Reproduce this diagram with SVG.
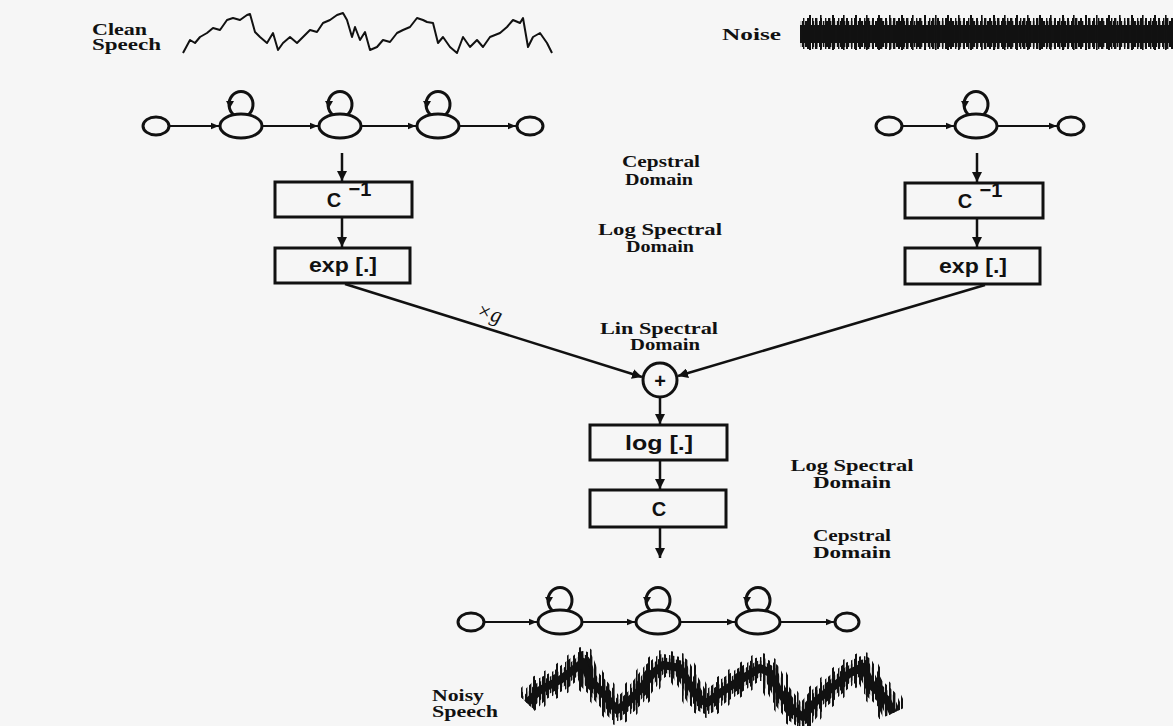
<svg xmlns="http://www.w3.org/2000/svg" width="1173" height="726" viewBox="0 0 1173 726">
<style>
.lbl{font-family:"Liberation Serif","Times New Roman",serif;font-size:16px;fill:#111;font-weight:bold}
.box{fill:none;stroke:#111;stroke-width:3}
.btxt{font-family:"Liberation Sans",Arial,sans-serif;font-weight:bold;font-size:20px;fill:#111;text-anchor:middle}
.st{fill:none;stroke:#111;stroke-width:3}
.ln{fill:none;stroke:#111;stroke-width:2.5}
.tr{fill:none;stroke:#111;stroke-width:2}
</style>
<defs>
<marker id="ah" viewBox="0 0 10 10" refX="10" refY="5" markerWidth="4" markerHeight="4" orient="auto" markerUnits="strokeWidth"><path d="M0,0 L10,5 L0,10 z" fill="#111"/></marker>
<marker id="sh" viewBox="0 0 10 10" refX="10" refY="5" markerWidth="5" markerHeight="4" orient="auto" markerUnits="strokeWidth"><path d="M0,1 L10,5 L0,9 z" fill="#111"/></marker>
<pattern id="pA" patternUnits="userSpaceOnUse" width="7" height="60">
<rect x="0" y="0" width="2.2" height="60" fill="#111"/>
<rect x="3.8" y="0" width="1.6" height="60" fill="#111"/>
</pattern>
<pattern id="pB" patternUnits="userSpaceOnUse" width="13" height="60">
<rect x="1" y="0" width="2" height="60" fill="#111"/>
<rect x="6" y="0" width="1.4" height="60" fill="#111"/>
<rect x="9" y="0" width="2.4" height="60" fill="#111"/>
</pattern>
<pattern id="pC" patternUnits="userSpaceOnUse" width="23" height="60">
<rect x="4" y="0" width="2" height="60" fill="#111"/>
<rect x="15" y="0" width="1.6" height="60" fill="#111"/>
</pattern>
<path id="nz" d="M527,703 L540,690 560,680 577,667 583,662 590,680 600,690 617,710 627,703 640,690 653,673 663,665 680,668 687,680 697,697 707,703 720,693 740,680 760,668 770,673 780,693 793,710 803,717 817,700 833,687 850,673 863,667 873,687 887,700 893,713"/>
</defs>
<rect width="1173" height="726" fill="#f6f6f6"/>

<g id="clean-speech">
<text class="lbl" x="92" y="35" textLength="55" lengthAdjust="spacingAndGlyphs">Clean</text>
<text class="lbl" x="92" y="50" textLength="69" lengthAdjust="spacingAndGlyphs">Speech</text>
<polyline fill="none" stroke="#111" stroke-width="2" stroke-linejoin="round" points="183,53 190,40 195,43 200,37 207,33 213,28 220,30 227,20 233,18 240,20 247,15 250,14 255,32 260,37 267,43 273,33 278,50 283,43 290,37 297,43 303,37 310,30 317,32 323,23 330,20 337,15 343,13 347,20 352,37 355,27 360,40 365,32 370,50 377,47 383,40 390,42 397,33 403,30 410,27 417,18 423,20 427,22 433,23 438,43 443,37 450,47 457,53 463,37 470,47 477,40 483,47 490,37 500,33 507,27 513,20 520,23 523,18 528,47 533,37 540,33 547,43 552,53"/>
</g>

<g id="noise">
<text class="lbl" x="722" y="40" textLength="59" lengthAdjust="spacingAndGlyphs">Noise</text>
<rect x="800" y="25" width="373" height="18" fill="#111"/>
<rect x="800" y="21" width="373" height="26" fill="url(#pA)"/>
<rect x="803" y="18" width="370" height="31" fill="url(#pB)"/>
<rect x="800" y="15" width="373" height="35" fill="url(#pC)"/>
</g>

<g id="hmm-clean">
<ellipse class="st" cx="156" cy="126" rx="13" ry="9"/>
<ellipse class="st" cx="241" cy="126" rx="21" ry="12"/>
<ellipse class="st" cx="340" cy="126" rx="21" ry="12"/>
<ellipse class="st" cx="438" cy="126" rx="21" ry="12"/>
<ellipse class="st" cx="530" cy="126" rx="13" ry="9"/>
</g>

<g id="hmm-noise">
<ellipse class="st" cx="889" cy="126" rx="13" ry="9"/>
<ellipse class="st" cx="976" cy="126" rx="21" ry="12"/>
<ellipse class="st" cx="1071" cy="126" rx="13" ry="9"/>
</g>

<g id="box-cinv-left">
<rect class="box" x="275" y="182" width="137" height="35"/>
<text class="btxt" x="334" y="207">C</text>
<text class="btxt" x="360" y="196" font-size="13">−1</text>
</g>
<g id="box-exp-left">
<rect class="box" x="275" y="248" width="135" height="35"/>
<text class="btxt" x="343" y="272" textLength="68" lengthAdjust="spacingAndGlyphs">exp [.]</text>
</g>
<g id="box-cinv-right">
<rect class="box" x="905" y="183" width="138" height="35"/>
<text class="btxt" x="965" y="208">C</text>
<text class="btxt" x="991" y="197" font-size="13">−1</text>
</g>
<g id="box-exp-right">
<rect class="box" x="905" y="248" width="135" height="36"/>
<text class="btxt" x="973" y="273" textLength="68" lengthAdjust="spacingAndGlyphs">exp [.]</text>
</g>

<g id="labels">
<text class="lbl" x="661" y="167" text-anchor="middle" textLength="78" lengthAdjust="spacingAndGlyphs">Cepstral</text>
<text class="lbl" x="659" y="185" text-anchor="middle" textLength="68" lengthAdjust="spacingAndGlyphs">Domain</text>
<text class="lbl" x="660" y="235" text-anchor="middle" textLength="124" lengthAdjust="spacingAndGlyphs">Log Spectral</text>
<text class="lbl" x="660" y="252" text-anchor="middle" textLength="68" lengthAdjust="spacingAndGlyphs">Domain</text>
<text class="lbl" x="659" y="334" text-anchor="middle" textLength="118" lengthAdjust="spacingAndGlyphs">Lin Spectral</text>
<text class="lbl" x="665" y="350" text-anchor="middle" textLength="70" lengthAdjust="spacingAndGlyphs">Domain</text>
<text class="lbl" x="852" y="471" text-anchor="middle" textLength="123" lengthAdjust="spacingAndGlyphs">Log Spectral</text>
<text class="lbl" x="852" y="488" text-anchor="middle" textLength="78" lengthAdjust="spacingAndGlyphs">Domain</text>
<text class="lbl" x="852" y="541" text-anchor="middle" textLength="78" lengthAdjust="spacingAndGlyphs">Cepstral</text>
<text class="lbl" x="852" y="558" text-anchor="middle" textLength="78" lengthAdjust="spacingAndGlyphs">Domain</text>
</g>

<g id="sum">
<circle class="st" cx="660" cy="380" r="17"/>
<text class="btxt" x="660" y="388" font-size="24" font-weight="normal">+</text>
</g>

<g id="box-log">
<rect class="box" x="590" y="425" width="137" height="35"/>
<text class="btxt" x="659" y="450" textLength="68" lengthAdjust="spacingAndGlyphs">log [.]</text>
</g>
<g id="box-c">
<rect class="box" x="590" y="490" width="136" height="37"/>
<text class="btxt" x="659" y="516">C</text>
</g>

<g id="hmm-noisy">
<ellipse class="st" cx="471" cy="622" rx="13" ry="9"/>
<ellipse class="st" cx="560" cy="622" rx="22" ry="12"/>
<ellipse class="st" cx="658" cy="622" rx="22" ry="12"/>
<ellipse class="st" cx="758" cy="622" rx="22" ry="12"/>
<ellipse class="st" cx="847" cy="622" rx="12" ry="9"/>
</g>

<g id="noisy-speech">
<text class="lbl" x="432" y="701" textLength="52" lengthAdjust="spacingAndGlyphs">Noisy</text>
<text class="lbl" x="432" y="717" textLength="66" lengthAdjust="spacingAndGlyphs">Speech</text>
<use href="#nz" fill="none" stroke="url(#pC)" stroke-width="30" stroke-linejoin="round"/>
<use href="#nz" fill="none" stroke="url(#pB)" stroke-width="22" stroke-linejoin="round"/>
<use href="#nz" fill="none" stroke="url(#pA)" stroke-width="15" stroke-linejoin="round"/>
<use href="#nz" fill="none" stroke="#111" stroke-width="8" stroke-linejoin="round"/>
</g>

<g id="connectors">
<line class="tr" x1="169" y1="126" x2="219" y2="126" marker-end="url(#sh)"/>
<line class="tr" x1="262" y1="126" x2="318" y2="126" marker-end="url(#sh)"/>
<line class="tr" x1="361" y1="126" x2="416" y2="126" marker-end="url(#sh)"/>
<line class="tr" x1="459" y1="126" x2="516" y2="126" marker-end="url(#sh)"/>
<path class="st" d="M234,115 A12 13 0 1 1 248,115"/>
<path class="st" d="M333,115 A12 13 0 1 1 347,115"/>
<path class="st" d="M431,115 A12 13 0 1 1 445,115"/>
<line class="tr" x1="902" y1="126" x2="954" y2="126" marker-end="url(#sh)"/>
<line class="tr" x1="997" y1="126" x2="1057" y2="126" marker-end="url(#sh)"/>
<path class="st" d="M969,115 A12 13 0 1 1 983,115"/>
<line class="tr" x1="484" y1="622" x2="537" y2="622" marker-end="url(#sh)"/>
<line class="tr" x1="582" y1="622" x2="635" y2="622" marker-end="url(#sh)"/>
<line class="tr" x1="680" y1="622" x2="735" y2="622" marker-end="url(#sh)"/>
<line class="tr" x1="780" y1="622" x2="834" y2="622" marker-end="url(#sh)"/>
<path class="st" d="M553,611 A12 13 0 1 1 567,611"/>
<path class="st" d="M651,611 A12 13 0 1 1 665,611"/>
<path class="st" d="M751,611 A12 13 0 1 1 765,611"/>
<g fill="#111">
<polygon points="226,101 234,101 230,108"/>
<polygon points="325,101 333,101 329,108"/>
<polygon points="423,101 431,101 427,108"/>
<polygon points="961,101 969,101 965,108"/>
<polygon points="545,597 553,597 549,604"/>
<polygon points="643,597 651,597 647,604"/>
<polygon points="743,597 751,597 747,604"/>
</g>
<line class="ln" x1="342" y1="153" x2="342" y2="181" marker-end="url(#ah)"/>
<line class="ln" x1="342" y1="218" x2="342" y2="247" marker-end="url(#ah)"/>
<line class="ln" x1="977" y1="153" x2="977" y2="182" marker-end="url(#ah)"/>
<line class="ln" x1="977" y1="219" x2="977" y2="247" marker-end="url(#ah)"/>
<line class="ln" x1="345" y1="284" x2="642" y2="377" marker-end="url(#ah)"/>
<line class="ln" x1="985" y1="285" x2="678" y2="376" marker-end="url(#ah)"/>
<line class="ln" x1="660" y1="397" x2="660" y2="424" marker-end="url(#ah)"/>
<line class="ln" x1="660" y1="461" x2="660" y2="489" marker-end="url(#ah)"/>
<line class="ln" x1="660" y1="528" x2="660" y2="558" marker-end="url(#ah)"/>
<text x="489" y="320" font-family="Liberation Serif,serif" font-style="italic" font-size="22" fill="#111" text-anchor="middle" transform="rotate(17 489 315)">×g</text>
</g>
</svg>
